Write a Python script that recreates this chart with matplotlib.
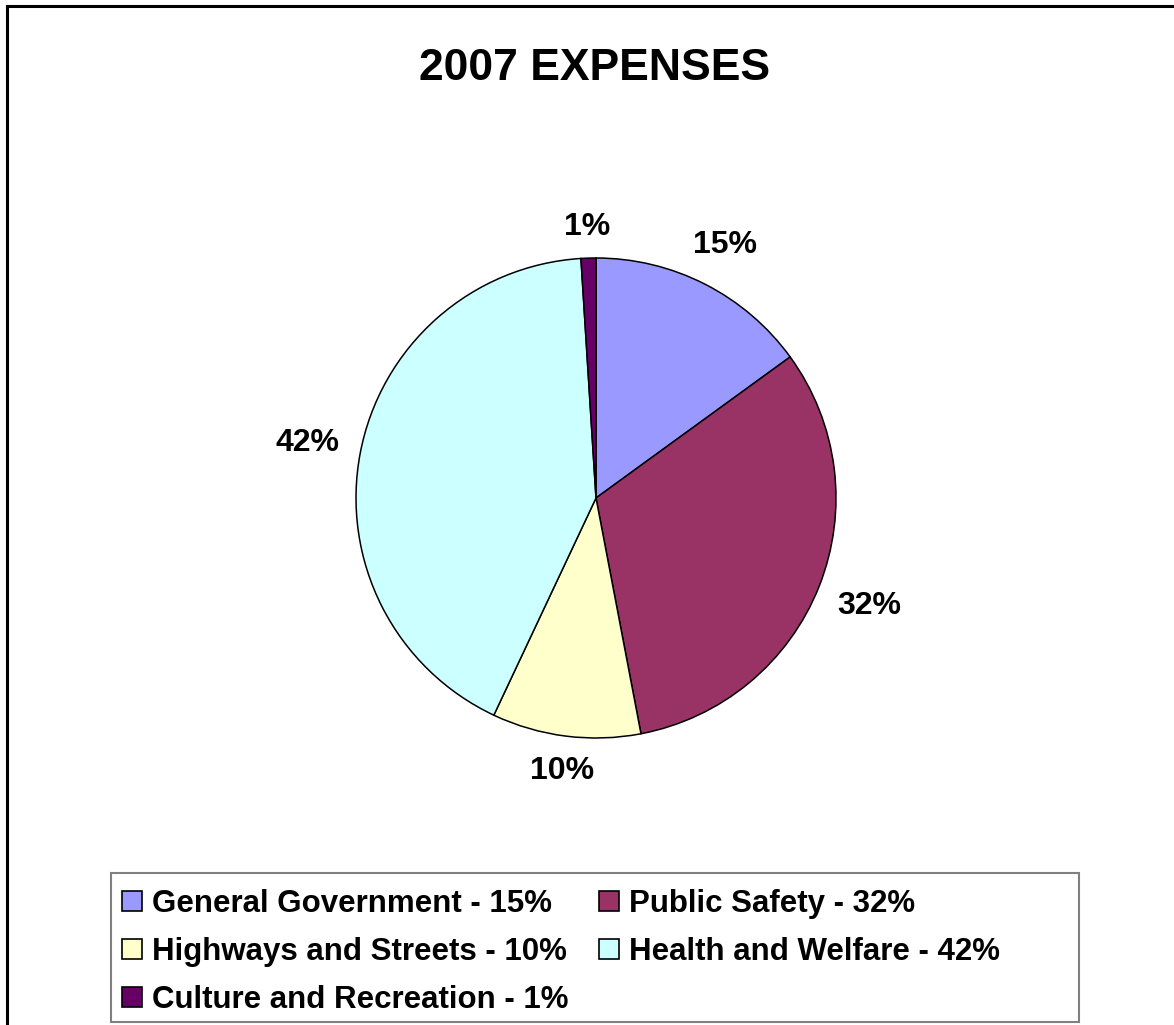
import numpy as np
import matplotlib.pyplot as plt
from matplotlib.patches import Patch, Rectangle
from matplotlib.lines import Line2D

plt.rcParams['font.family'] = ['Liberation Sans', 'DejaVu Sans']
plt.rcParams['font.weight'] = 'bold'

# expense categories and their share (%)
categories = ['General Government', 'Public Safety', 'Highways and Streets',
              'Health and Welfare', 'Culture and Recreation']
shares = [15, 32, 10, 42, 1]
colors = ['#9999FF', '#993366', '#FFFFCC', '#CCFFFF', '#660066']

W, H = 1174, 1025
fig = plt.figure(figsize=(W / 100, H / 100), dpi=100)


def fx(px):
    return px / W


def fy(py):
    return 1 - py / H


# outer chart frame (left and top edges only show)
fig.add_artist(Line2D([fx(7), fx(7)], [fy(6), fy(H + 10)], color='black',
                      lw=2.2, transform=fig.transFigure))
fig.add_artist(Line2D([fx(7), fx(W + 10)], [fy(6), fy(6)], color='black',
                      lw=2.2, transform=fig.transFigure))

fig.text(fx(595), fy(80), '2007 EXPENSES', ha='center', va='baseline',
         fontsize=32, fontweight='bold')

# pie
cx, cy, r = 596, 498, 240
ax = fig.add_axes([fx(cx - r), fy(cy + r), 2 * r / W, 2 * r / H])
wedges, _, pct_texts = ax.pie(
    shares, colors=colors, startangle=90, counterclock=False,
    autopct='%.0f%%', pctdistance=1.19,
    wedgeprops=dict(edgecolor='black', linewidth=1.1),
    textprops=dict(fontsize=23, fontweight='bold', color='black'))
ax.set_xlim(-1, 1)
ax.set_ylim(-1, 1)
ax.set_aspect('equal')
ax.axis('off')

# push each percentage label out so its box sits a fixed gap off the rim
fig.canvas.draw()
renderer = fig.canvas.get_renderer()
gap = 20
for w, t in zip(wedges, pct_texts):
    ang = np.deg2rad((w.theta1 + w.theta2) / 2)
    bb = t.get_window_extent(renderer)
    half_w, half_h = bb.width / 2, bb.height * 0.36
    d = r + gap + half_w * abs(np.cos(ang)) + half_h * abs(np.sin(ang))
    t.set_position((d / r * np.cos(ang), d / r * np.sin(ang)))

# legend box
fig.add_artist(Rectangle((fx(111), fy(1022)), fx(1079) - fx(111), fy(873) - fy(1022),
                         transform=fig.transFigure, facecolor='white',
                         edgecolor='#808080', lw=1.5))

handles = [Patch(facecolor=c, edgecolor='black', linewidth=1.2) for c in colors]
labels = [f'{name} - {v}%' for name, v in zip(categories, shares)]
order = [0, 2, 4, 1, 3]
fig.legend([handles[i] for i in order], [labels[i] for i in order],
           ncol=2, frameon=False, loc='center left',
           bbox_to_anchor=(fx(122), fy(952)), borderaxespad=0, borderpad=0,
           prop=dict(size=22.5, weight='bold'),
           handlelength=0.64, handleheight=0.64, handletextpad=0.33,
           labelspacing=0.58, columnspacing=0.95)

fig.savefig('out.png', dpi=100)
